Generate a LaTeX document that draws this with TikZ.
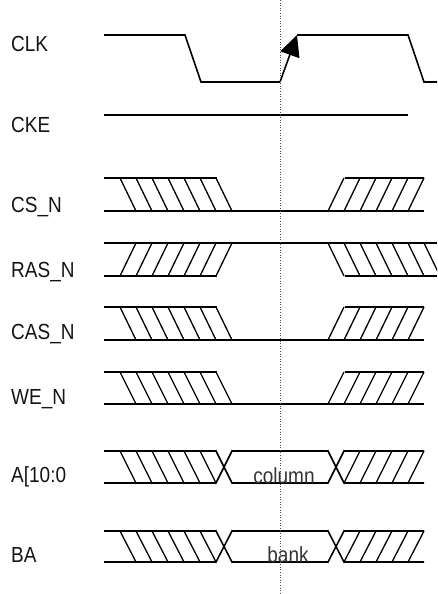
\documentclass[tikz,border=0pt]{standalone}
\usepackage{fontspec}
\setmainfont{Liberation Sans}
\usetikzlibrary{arrows.meta}
\newcommand{\tallt}[1]{\scalebox{1}[1.15]{#1}}
\begin{document}
\begin{tikzpicture}[x=1pt,y=-1pt,
  sig/.style={line width=1.6pt,line join=miter},
  hatch/.style={line width=1.3pt},
  lbl/.style={anchor=base west,inner sep=0pt,font=\fontsize{19}{22}\selectfont,text=black!92},
  busval/.style={anchor=base,inner sep=0pt,font=\fontsize{19}{22}\selectfont,text=black!80}]
\useasboundingbox (0,0) rectangle (437,594);
\clip (0,0) rectangle (437,594);
% labels
\node[lbl] (lclk) at (11,52) {\tallt{CLK}};
\node[lbl] (lcke) at (11,132) {\tallt{CKE}};
\node[lbl] (lcs)  at (11,212) {\tallt{CS\_N}};
\node[lbl] (lras) at (11,277) {\tallt{RAS\_N}};
\node[lbl] (lcas) at (11,339) {\tallt{CAS\_N}};
\node[lbl] (lwe)  at (11,404) {\tallt{WE\_N}};
\node[lbl] (la)   at (11,482) {\tallt{A[10:0}};
\node[lbl] (lba)  at (11,562) {\tallt{BA}};
% CLK
\draw[sig] (104,35) -- (185,35) -- (201,82) -- (280,82);
\draw[sig,-{Triangle[length=21pt,width=20pt]}] (280,82) -- (297,35);
\draw[sig] (297,35) -- (408,35) -- (424,82) -- (437,82);
% CKE
\draw[sig] (104,115) -- (408,115);
% CS_N, CAS_N, WE_N (same shape)
\foreach \yt/\yb in {178/211, 307/340, 372/404}{
  \draw[sig] (104,\yt) -- (217,\yt);
  \draw[sig] (345,\yt) -- (424,\yt);
  \draw[sig] (104,\yb) -- (424,\yb);
  \foreach \x in {120,136,...,216} \draw[hatch] (\x,\yt) -- ({\x+16},\yb);
  \foreach \x in {328,344,...,408} \draw[hatch] (\x,\yb) -- ({\x+16},\yt);
}
% RAS_N
\draw[sig] (104,243) -- (437,243);
\draw[sig] (104,276) -- (217,276);
\draw[sig] (345,276) -- (437,276);
\foreach \x in {120,136,...,216} \draw[hatch] (\x,276) -- ({\x+16},243);
\foreach \x in {328,344,...,424} \draw[hatch] (\x,243) -- ({\x+16},276);
% A and BA buses
\foreach \yt/\yb in {451/483, 531/562}{
  \draw[sig] (104,\yt) -- (216,\yt) -- (232,\yb) -- (328,\yb) -- (344,\yt) -- (424,\yt);
  \draw[sig] (104,\yb) -- (216,\yb) -- (232,\yt) -- (328,\yt) -- (344,\yb) -- (424,\yb);
  \foreach \x in {120,136,...,200} \draw[hatch] (\x,\yt) -- ({\x+16},\yb);
  \foreach \x in {344,360,...,408} \draw[hatch] (\x,\yb) -- ({\x+16},\yt);
}
\node[busval] (col) at (284,483) {\tallt{column}};
\node[busval] (bank) at (288,562) {\tallt{bank}};
% vertical reference line
\draw[black!70,line width=0.6pt,dotted] (280,0) -- (280,594);
\end{tikzpicture}
\end{document}
